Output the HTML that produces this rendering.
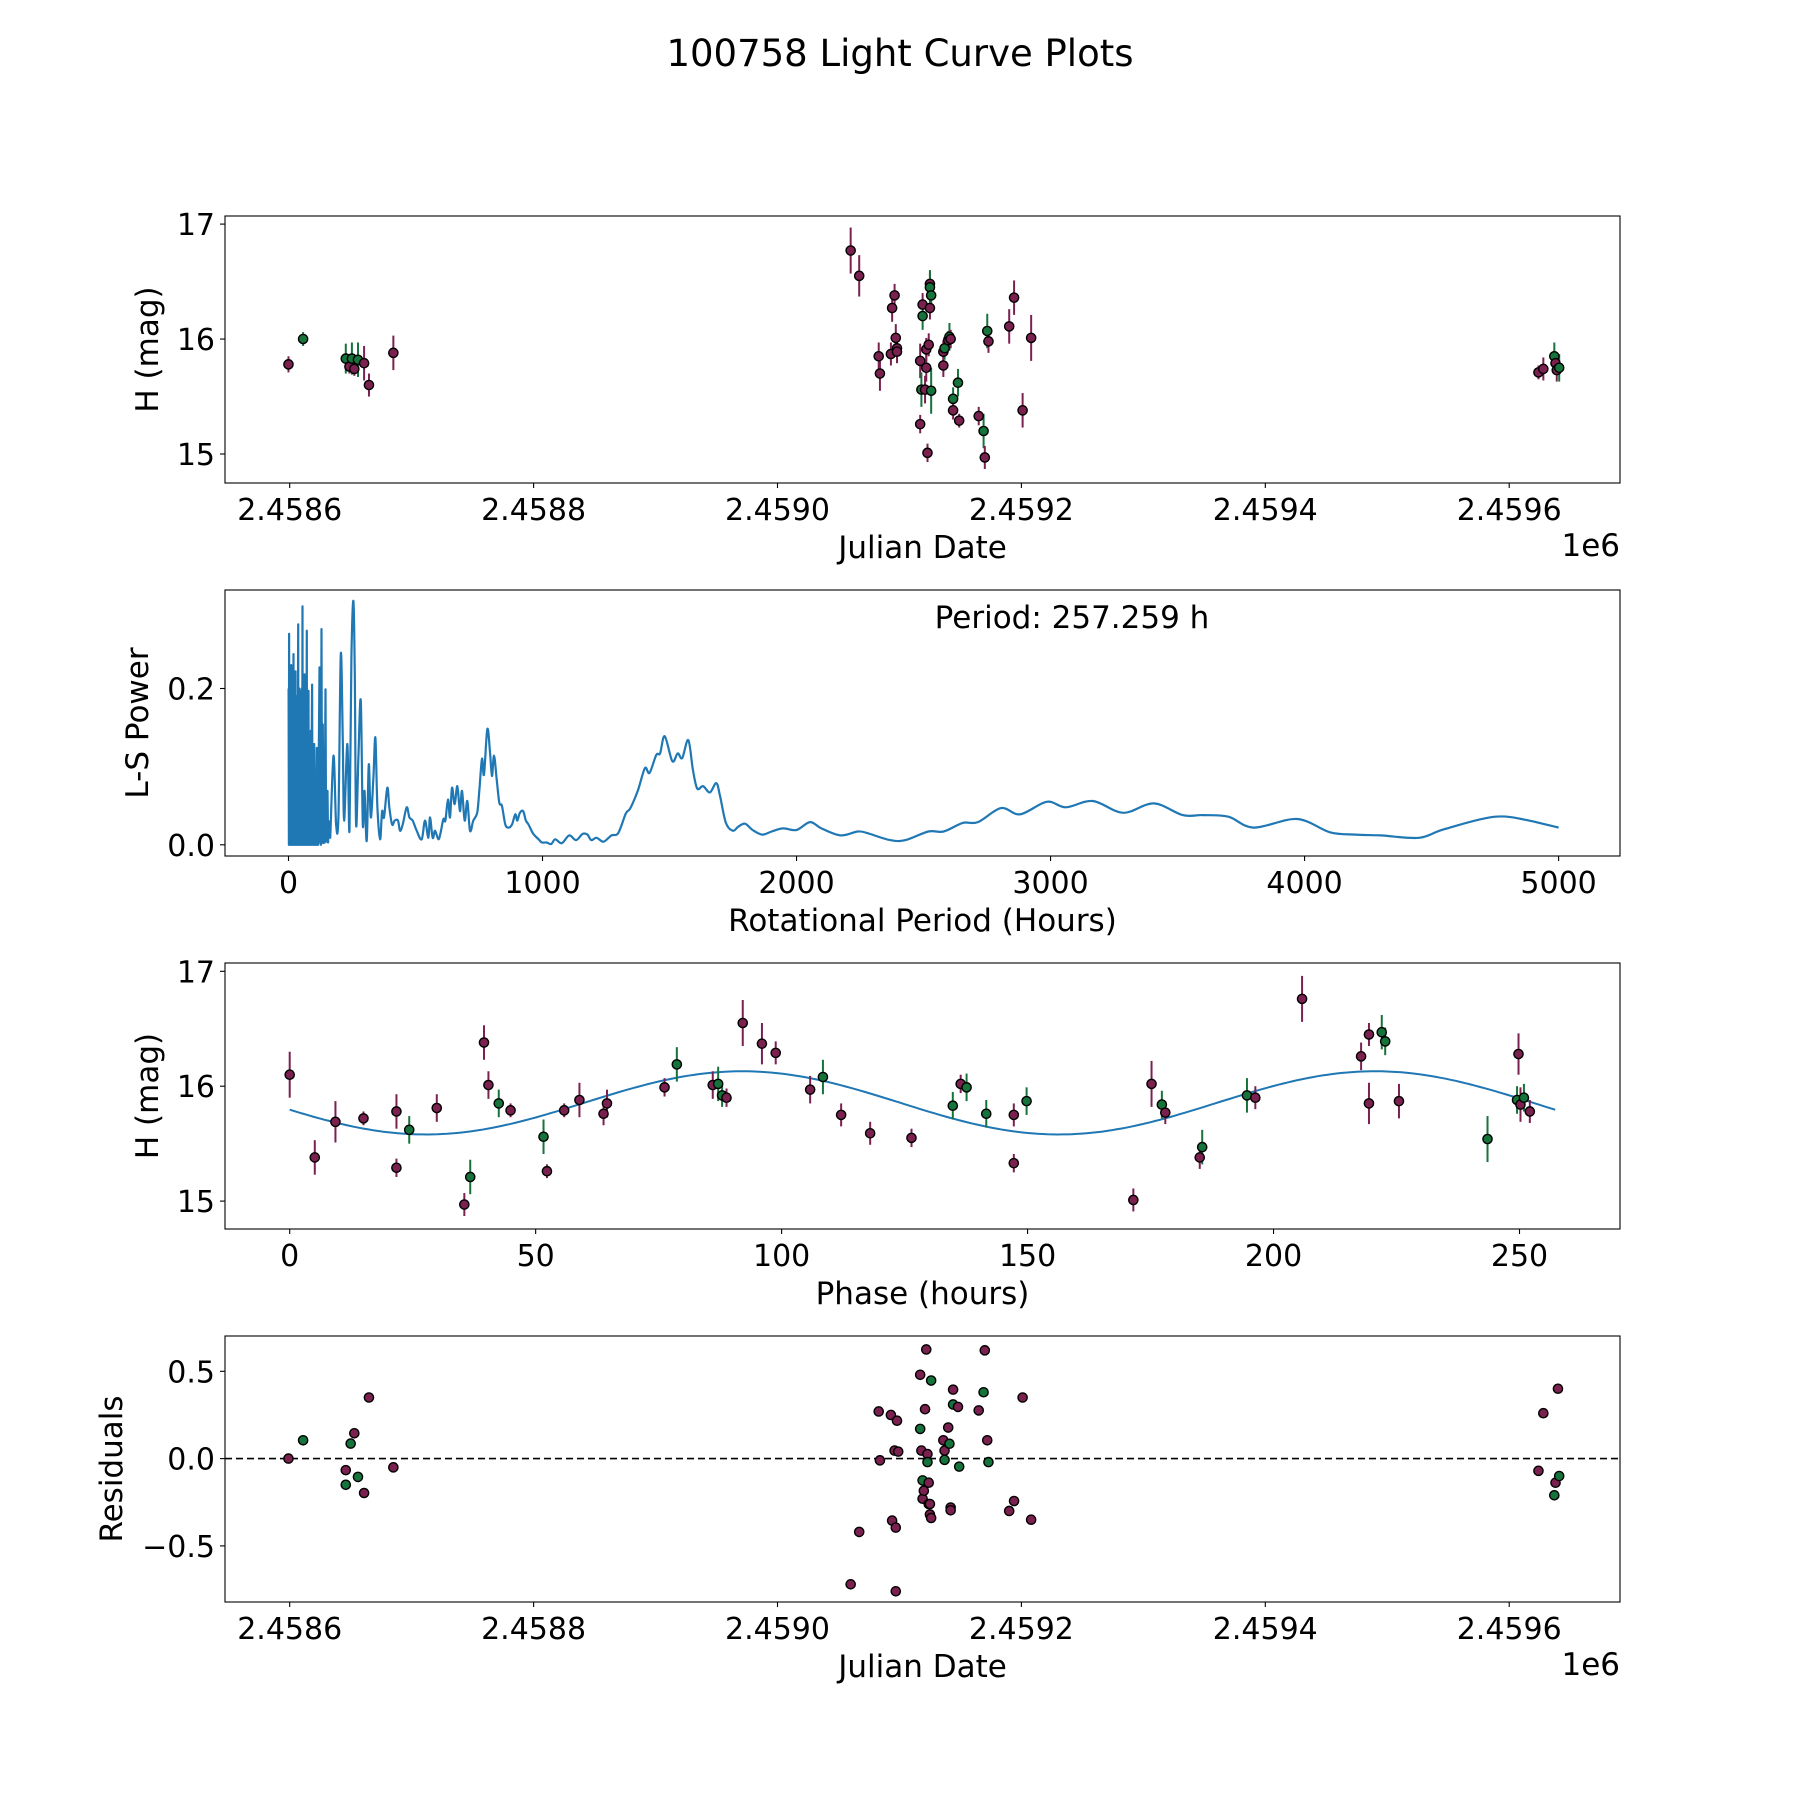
<!DOCTYPE html>
<html><head><meta charset="utf-8"><style>
html,body{margin:0;padding:0;background:#fff;}
svg{display:block;font-family:"DejaVu Sans","Liberation Sans",sans-serif;}
</style></head><body>
<svg id="fig" width="1800" height="1800" viewBox="0 0 1800 1800">
<text x="900" y="66" font-size="37" text-anchor="middle">100758 Light Curve Plots</text>
</svg>
<script>
// ---- Panel 1: light curve (days since 2458600) ----
const jd1 = [-1,11,46,49,51,53,56,61,65,85,460,467,483,484,493,494,496,497,498,498,517,517,519,519,518,521,522,522,523,524,525,525,525,526,526,536,536,537,540,541,542,544,544,548,549,565,569,570,572,573,590,594,601,608,1024,1028,1037,1038,1039,1041];
const h1 = [15.78,16.0,15.83,15.76,15.83,15.74,15.82,15.79,15.6,15.88,16.77,16.55,15.85,15.70,15.87,16.27,16.38,16.01,15.92,15.89,15.81,15.26,16.30,16.2,15.56,15.56,15.75,15.91,15.01,15.95,16.27,16.48,16.45,16.38,15.55,15.89,15.77,15.92,15.99,16.02,16.0,15.48,15.38,15.62,15.29,15.33,15.2,14.97,16.07,15.98,16.11,16.36,15.38,16.01,15.71,15.74,15.85,15.79,15.73,15.75];
const e1 = [.07,.06,.13,.06,.14,.06,.15,.15,.1,.15,.2,.18,.12,.15,.1,.12,.1,.12,.1,.1,.15,.08,.1,.12,.15,.12,.12,.1,.08,.1,.1,.1,.15,.12,.2,.1,.1,.1,.08,.12,.08,.1,.08,.12,.06,.08,.15,.1,.15,.1,.15,.15,.15,.2,.06,.1,.12,.1,.1,.12];
const c1 = ["m","g","g","m","g","m","g","m","m","m",
 "m","m","m","m","m","m","m","m","m","m","m","m","m","g","g","m","m","m","m","m","m","m","g","g","g","m","m","g","m","g","m","g","m","g","m","m","g","m","g","m","m","m","m","m",
 "m","m","g","m","m","g"];
// ---- Panel 2: periodogram ----
const per2 = [0.5,1.5,2.5,3.5,4.5,5.5,6.6,7.6,8.8,9.8,11,12,13.2,14.2,15.5,16.5,17.7,18.7,19.7,20.7,22,23,24.2,25.2,26.5,27.5,28.5,30,31,32.4,33.4,34.8,35.8,37,38,39,40.3,41.3,42.6,43.6,45,46,47.5,48.5,50,51,52.5,53.5,55,56,57.5,58.5,60,61,63,64,65.5,66.5,68,69,70.5,72,73,74.5,75.5,77,78.7,79.7,81.5,82.5,84.5,85.5,87.8,89,91,93,94.5,96.5,98,101,103,105,107,111.4,113,115,117,119,122,124,126,127.5,129.8,132,135,137.5,140,142,145.5,148,150,153.4,156,159,164,177,187.5,196.7,205.8,213.7,219,232,240,247.8,255.6,260.9,266,275.3,284.5,292.4,299,308,316,323.8,334.3,342,350,360.5,368.4,376,389,397,407.7,418,431,439,449.7,465.4,476,489,504.7,524.4,537.5,550.6,557,567.6,576.8,590,599,609.6,617.5,628,635.8,643.7,654,664.7,675,683,693.5,704,714.5,727.6,743,751,761.7,769.6,782.7,793,801,809,819,830,840,853.5,866.6,879.7,892.8,900.6,911,924,934.7,945,963.6,984.6,997.7,1016,1034,1050,1076,1105,1132,1158,1177,1192,1213,1240,1271,1298,1328,1346,1376,1403,1421,1448,1463,1481,1511,1532,1550,1574,1592,1609,1632,1659,1684,1699,1722,1749,1770,1797,1827,1865,1902,1947,2000,2053,2098,2173,2241,2278,2368,2429,2519,2579,2654,2714,2805,2880,2985,3060,3166,3286,3406,3520,3600,3700,3800,3970,4100,4200,4300,4450,4550,4750,4900,5000];
const pow2 = [0.20,0.0,0.27,0.01,0.12,0.0,0.205,0.0,0.15,0.01,0.23,0.0,0.1,0.0,0.18,0.0,0.09,0.0,0.244,0.0,0.13,0.0,0.17,0.01,0.08,0.222,0.0,0.12,0.0,0.19,0.0,0.1,0.0,0.16,0.282,0.0,0.12,0.0,0.2,0.0,0.197,0.0,0.1,0.0,0.15,0.0,0.2,0.0,0.305,0.0,0.12,0.0,0.17,0.0,0.218,0.0,0.1,0.0,0.15,0.0,0.09,0.274,0.0,0.12,0.0,0.09,0.197,0.0,0.11,0.0,0.08,0.0,0.146,0.0,0.1,0.205,0.0,0.1,0.0,0.129,0.0,0.09,0.0,0.124,0.0,0.08,0.0,0.1,0.227,0.003,0.06,0.0,0.276,0.003,0.154,0.002,0.05,0.003,0.199,0.004,0.03,0.069,0.003,0.03,0.009,0.114,0.026,0.039,0.244,0.133,0.031,0.129,0.018,0.239,0.312,0.218,0.026,0.112,0.184,0.026,0.069,0.005,0.103,0.035,0.086,0.137,0.048,0.007,0.043,0.035,0.073,0.048,0.026,0.031,0.031,0.018,0.026,0.048,0.035,0.031,0.018,0.007,0.031,0.009,0.035,0.009,0.018,0.007,0.016,0.033,0.031,0.058,0.035,0.073,0.052,0.075,0.043,0.069,0.031,0.056,0.018,0.031,0.041,0.069,0.110,0.090,0.148,0.120,0.088,0.114,0.086,0.054,0.050,0.026,0.022,0.026,0.039,0.031,0.041,0.043,0.031,0.026,0.014,0.007,0.003,0.003,0.001,0.007,0.002,0.012,0.006,0.014,0.013,0.006,0.009,0.004,0.012,0.015,0.040,0.047,0.070,0.098,0.092,0.115,0.117,0.139,0.107,0.117,0.111,0.134,0.096,0.072,0.075,0.067,0.079,0.062,0.028,0.018,0.023,0.027,0.019,0.013,0.017,0.021,0.019,0.029,0.021,0.012,0.017,0.015,0.006,0.006,0.017,0.017,0.028,0.029,0.047,0.039,0.055,0.048,0.056,0.041,0.053,0.038,0.038,0.036,0.022,0.033,0.016,0.013,0.012,0.009,0.02,0.036,0.03,0.022];
// ---- Panel 3: phased ----
const ph3 = [0,5.1,9.3,15,21.7,21.7,24.3,29.9,35.5,36.7,39.5,40.4,42.5,44.9,51.6,52.3,55.8,58.9,63.8,64.5,76.2,78.7,86,87.1,87.9,88.8,92.1,96,98.8,105.8,108.4,112.1,118,126.4,134.8,136.4,137.6,141.6,147.2,147.2,149.8,171.5,175.2,177.3,178,185,185.5,194.6,196.3,205.8,217.8,219.4,222,222.7,225.5,219.4,243.5,249.5,249.8,250.2,250.9,252.1];
const h3 = [16.1,15.38,15.69,15.72,15.78,15.29,15.62,15.81,14.97,15.21,16.38,16.01,15.85,15.79,15.56,15.26,15.79,15.88,15.76,15.85,15.99,16.19,16.01,16.02,15.92,15.9,16.55,16.37,16.29,15.97,16.08,15.75,15.59,15.55,15.83,16.02,15.99,15.76,15.75,15.33,15.87,15.01,16.02,15.84,15.77,15.38,15.47,15.92,15.9,16.76,16.26,16.45,16.47,16.39,15.87,15.85,15.54,15.88,16.28,15.84,15.9,15.78];
const e3 = [.2,.15,.18,.06,.15,.08,.12,.12,.1,.15,.15,.12,.12,.06,.15,.06,.06,.15,.1,.12,.08,.15,.12,.15,.1,.08,.2,.18,.1,.12,.15,.1,.1,.08,.12,.08,.12,.12,.1,.08,.12,.1,.2,.12,.1,.1,.15,.15,.1,.2,.12,.1,.15,.12,.15,.18,.2,.12,.18,.15,.12,.1];
const c3 = ["m","m","m","m","m","m","g","m","m","g","m","m","g","m","g","m","m","m","m","m","m","g","m","g","g","m","m","m","m","m","g","m","m","m","g","m","g","g","m","m","g","m","m","g","m","m","g","g","m","m","m","m","g","g","m","m","g","g","m","m","g","m"];
const fitMean = 15.855, fitAmp = 0.275, fitPeriod = 128.63, fitPeak = 92, phaseMax = 257.259;
// ---- Panel 4: residuals ----
const jd4 = [-1,11,46,50,53,56,46,61,65,85,460,467,483,484,493,494,496,497,498,499,497,517,517,518,519,519,520,521,522,523,523,524,524,525,526,526,525,536,537,537,540,541,542,542,544,544,548,549,565,569,570,572,573,590,594,601,608,1024,1028,1037,1038,1040,1041];
const r4 = [0,.105,-.066,.086,.145,-.105,-.15,-.197,.35,-.05,-.72,-.42,.27,-.01,.25,-.355,.046,-.395,.217,.04,-.76,.48,.17,.046,-.23,-.125,-.184,.283,.625,.026,-.02,-.138,-.26,-.32,.447,-.34,-.26,.105,-.007,.046,.178,.085,-.28,-.296,.31,.395,.296,-.046,.276,.38,.62,.105,-.02,-.3,-.243,.35,-.35,-.07,.26,-.21,-.138,.4,-.1];
const c4 = ["m","g","m","g","m","g","g","m","m","m",
 "m","m","m","m","m","m","m","m","m","m","m","m","g","m","m","g","m","m","m","m","g","m","g","m","g","m","m","m","g","m","m","g","m","m","g","m","m","g","m","g","m","m","g","m","m","m","m",
 "m","m","g","m","m","g"];
const xTicksJD = [0,200,400,600,800,1000];
const xTickJDLabels = ["2.4586","2.4588","2.4590","2.4592","2.4594","2.4596"];
const yTicksH = [15,16,17];
const xTicksPer = [0,1000,2000,3000,4000,5000];
const yTicksPow = [0,0.2];
const yTickPowLabels = ["0.0","0.2"];
const xTicksPh = [0,50,100,150,200,250];
const yTicksRes = [-0.5,0,0.5];
const yTickResLabels = ["\u22120.5","0.0","0.5"];

const NS = "http://www.w3.org/2000/svg";
const svg = document.getElementById('fig');
const COL = {m:"#7b2150", g:"#16733b"};
const L = 225, R = 1620;
const FT = 30, FL = 31;
function mk(tag, attrs, parent){ const e=document.createElementNS(NS,tag); for(const k in attrs) e.setAttribute(k,attrs[k]); (parent||svg).appendChild(e); return e; }
function lin(d0,d1,p0,p1){ return v => p0 + (v-d0)*(p1-p0)/(d1-d0); }

const ax = [{t:216,b:483},{t:590,b:856},{t:963,b:1229},{t:1336,b:1602}];

function frame(i, name){
  const a = ax[i];
  const r = mk('rect',{x:L,y:a.t,width:R-L,height:a.b-a.t,fill:'none',stroke:'#000','stroke-width':1.1});
  
  
}
function xticks(i, vals, labels, sx, name){
  const a=ax[i];
  vals.forEach((v,k)=>{
    const x=sx(v);
    const t=mk('line',{x1:x,x2:x,y1:a.b,y2:a.b+5,stroke:'#000','stroke-width':1.1});
    
    
    const tx=mk('text',{x:x,y:a.b+37,'font-size':FT,'text-anchor':'middle'});
    tx.textContent=labels[k];
    
    
  });
}
function yticks(i, vals, labels, sy, name){
  vals.forEach((v,k)=>{
    const y=sy(v);
    const t=mk('line',{x1:L-5,x2:L,y1:y,y2:y,stroke:'#000','stroke-width':1.1});
    
    
    const tx=mk('text',{x:L-10,y:y+11,'font-size':FT,'text-anchor':'end'});
    tx.textContent=labels[k];
    
    
  });
}
function xlabel(i, txt, name){
  const tx=mk('text',{x:(L+R)/2,y:ax[i].b+75,'font-size':FL,'text-anchor':'middle'});
  tx.textContent=txt;
  
  
}
function ylabel(i, txt, name, xoff){
  const cy=(ax[i].t+ax[i].b)/2;
  const tx=mk('text',{x:xoff,y:cy,'font-size':FL,'text-anchor':'middle',transform:`rotate(-90 ${xoff} ${cy})`});
  tx.textContent=txt;
  
  
}
function offsetText(i){
  const tx=mk('text',{x:R,y:ax[i].b+73,'font-size':FL,'text-anchor':'end'});
  tx.textContent='1e6';
  
  
}
function point(x,y,c,name){
  const p=mk('circle',{cx:x,cy:y,r:4.6,fill:COL[c],stroke:'#000','stroke-width':1.4});
  
  
}
function errbar(x,y1,y2,c){
  const l=mk('line',{x1:x,x2:x,y1:y1,y2:y2,stroke:COL[c],'stroke-width':2});
  
  
}

// Panel 1
const sxJD = lin(0,1000,289.7,1509.2);
const sy1 = lin(15,17,454,224.1);
frame(0,'lightcurve');
xticks(0,xTicksJD,xTickJDLabels,sxJD,'lightcurve');
yticks(0,yTicksH,yTicksH.map(String),sy1,'lightcurve');
xlabel(0,'Julian Date','lightcurve-x-axis-title');
offsetText(0);
ylabel(0,'H (mag)','lightcurve-y-axis-title',158);
jd1.forEach((d,k)=>{ errbar(sxJD(d),sy1(h1[k]-e1[k]),sy1(h1[k]+e1[k]),c1[k]); });
jd1.forEach((d,k)=>{ point(sxJD(d),sy1(h1[k]),c1[k],'lightcurve-point'); });

// Panel 2
const sxP = lin(0,5000,288.5,1558.6);
const sy2 = lin(0,0.2,844.8,688.5);
frame(1,'periodogram');
xticks(1,xTicksPer,xTicksPer.map(String),sxP,'periodogram');
yticks(1,yTicksPow,yTickPowLabels,sy2,'periodogram');
xlabel(1,'Rotational Period (Hours)','periodogram-x-axis-title');
ylabel(1,'L-S Power','periodogram-y-axis-title',148);
// path: straight segments for dense spikes, Catmull-Rom smoothing for long periods
const P = per2.map((p,k)=>[sxP(p), sy2(pow2[k])]);
let d = 'M'+P[0][0].toFixed(1)+','+P[0][1].toFixed(1);
for(let k=1;k<P.length;k++){
  if(per2[k] < 170 || k+1>=P.length || k<2){ d += ' L'+P[k][0].toFixed(1)+','+P[k][1].toFixed(1); continue; }
  const p0=P[k-2], p1=P[k-1], p2=P[k], p3=P[k+1];
  const c1x=p1[0]+(p2[0]-p0[0])/6, c1y=p1[1]+(p2[1]-p0[1])/6;
  const c2x=p2[0]-(p3[0]-p1[0])/6, c2y=p2[1]-(p3[1]-p1[1])/6;
  d += ` C${c1x.toFixed(1)},${c1y.toFixed(1)} ${c2x.toFixed(1)},${c2y.toFixed(1)} ${p2[0].toFixed(1)},${p2[1].toFixed(1)}`;
}
const pl = mk('path',{d:d,fill:'none',stroke:'#1f77b4','stroke-width':2.2,'stroke-linejoin':'round'});


const pt = mk('text',{x:1072,y:628,'font-size':FL,'text-anchor':'middle'});
pt.textContent='Period: 257.259 h';



// Panel 3
const sxPh = lin(0,250,289.7,1519.5);
const sy3 = lin(15,17,1201.1,971.3);
frame(2,'phased');
xticks(2,xTicksPh,xTicksPh.map(String),sxPh,'phased');
yticks(2,yTicksH,yTicksH.map(String),sy3,'phased');
xlabel(2,'Phase (hours)','phased-x-axis-title');
ylabel(2,'H (mag)','phased-y-axis-title',158);
const fitPts=[];
for(let p=0;p<=phaseMax;p+=1){ fitPts.push(sxPh(p).toFixed(1)+','+sy3(fitMean+fitAmp*Math.cos(2*Math.PI*(p-fitPeak)/fitPeriod)).toFixed(1)); }
fitPts.push(sxPh(phaseMax).toFixed(1)+','+sy3(fitMean+fitAmp*Math.cos(2*Math.PI*(phaseMax-fitPeak)/fitPeriod)).toFixed(1));
const fl=mk('polyline',{points:fitPts.join(' '),fill:'none',stroke:'#1f77b4','stroke-width':2});


ph3.forEach((p,k)=>{ errbar(sxPh(p),sy3(h3[k]-e3[k]),sy3(h3[k]+e3[k]),c3[k]); });
ph3.forEach((p,k)=>{ point(sxPh(p),sy3(h3[k]),c3[k],'phased-point'); });

// Panel 4
const sy4 = lin(0,0.5,1458.6,1371.3);
frame(3,'residuals');
xticks(3,xTicksJD,xTickJDLabels,sxJD,'residuals');
yticks(3,yTicksRes,yTickResLabels,sy4,'residuals');
xlabel(3,'Julian Date','residuals-x-axis-title');
offsetText(3);
ylabel(3,'Residuals','residuals-y-axis-title',122);
const zl=mk('line',{x1:L,x2:R,y1:sy4(0),y2:sy4(0),stroke:'#000','stroke-width':1.6,'stroke-dasharray':'7,4'});


jd4.forEach((d,k)=>{ point(sxJD(d),sy4(r4[k]),c4[k],'residual-point'); });
</script>
</body></html>
